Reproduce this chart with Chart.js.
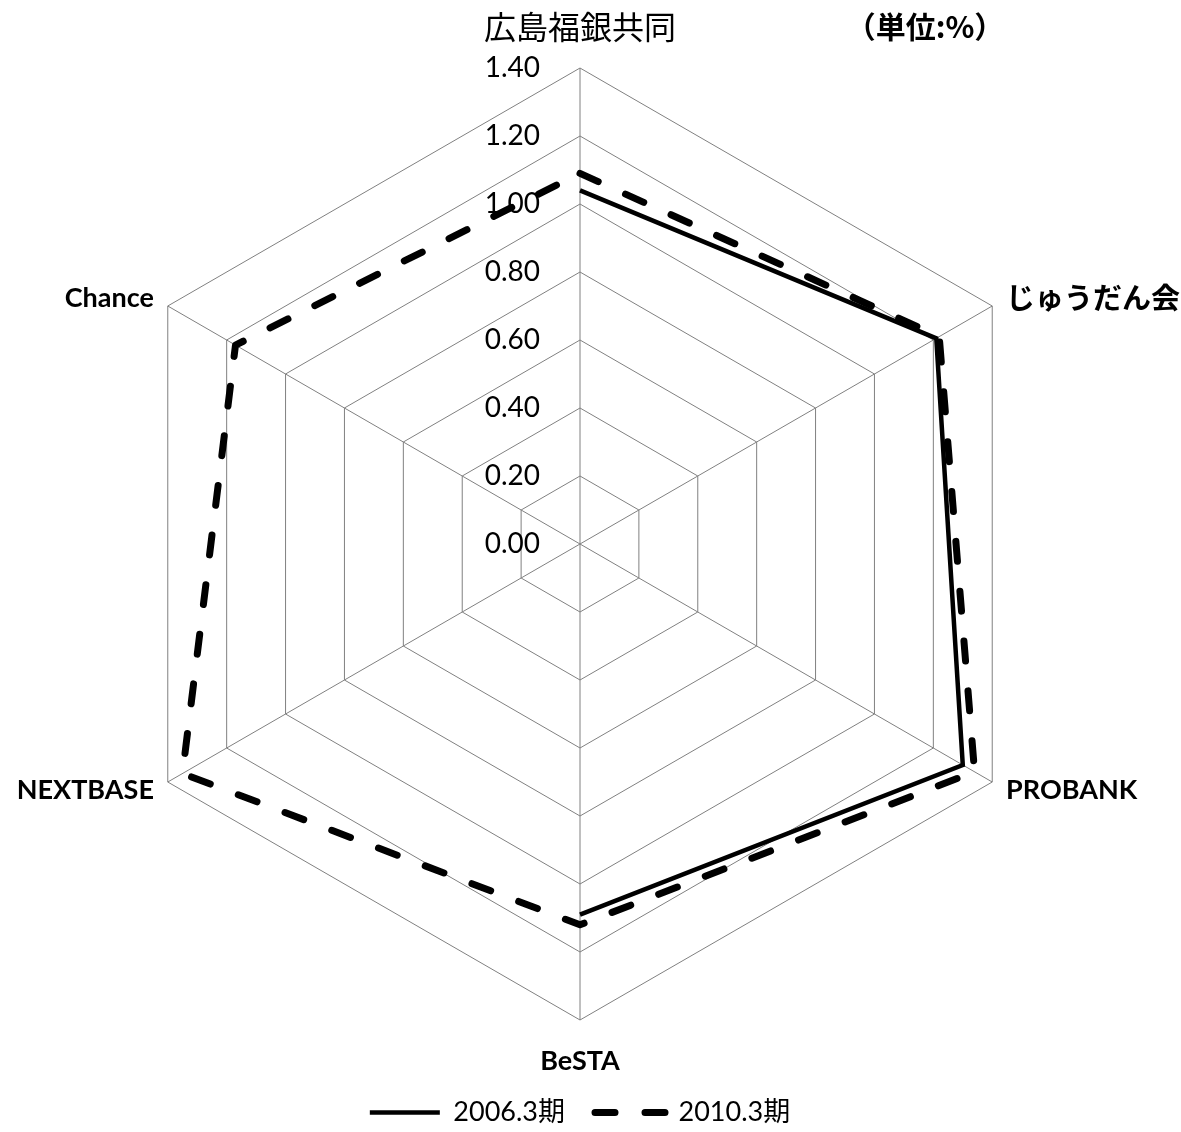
<!DOCTYPE html>
<html lang="ja">
<head>
<meta charset="utf-8">
<script src="https://cdn.jsdelivr.net/npm/chart.js@4.4.0/dist/chart.umd.min.js"></script>
<style>
    html, body { margin: 0; padding: 0; background: #fff; }
    #wrap { width: 1181px; height: 1132px; position: relative; }
</style>
</head>
<body>
<div id="wrap"><canvas id="radarChart"></canvas></div>
<script>
// Data
const categories = ['広島福銀共同', 'じゅうだん会', 'PROBANK', 'BeSTA', 'NEXTBASE', 'Chance'];
const seriesNames = ['2006.3期', '2010.3期'];
const values2006 = [1.04, 1.21, 1.30, 1.09, null, null];
const values2010 = [1.09, 1.22, 1.34, 1.12, 1.35, 1.17];
const tickValues = [0, 0.2, 0.4, 0.6, 0.8, 1.0, 1.2, 1.4];
const tickLabels = ['0.00', '0.20', '0.40', '0.60', '0.80', '1.00', '1.20', '1.40'];
const unitNote = '（単位:%）';

const latinFont = 'Lato, "Noto Sans CJK JP", sans-serif';
const gridColor = '#808080';

// Tick labels sit left of the vertical axis, point labels around the hexagon
const radarText = {
    id: 'radarText',
    beforeDatasetsDraw(chart) {
        const r = chart.scales.r;
        const ctx = chart.ctx;
        ctx.save();
        ctx.font = '28px ' + latinFont;
        ctx.fillStyle = '#000';
        ctx.textAlign = 'right';
        ctx.textBaseline = 'middle';
        tickValues.forEach((v, i) => {
            const y = r.yCenter - r.getDistanceFromCenterForValue(v);
            ctx.fillText(tickLabels[i], r.xCenter - 40, y);
        });
        ctx.restore();
    },
    afterDraw(chart) {
        const r = chart.scales.r;
        const ctx = chart.ctx;
        ctx.save();
        ctx.fillStyle = '#000';
        ctx.textBaseline = 'middle';
        categories.forEach((label, i) => {
            const probe = r.getPointPosition(i, r.drawingArea);
            const dx = probe.x - r.xCenter;
            const vertical = Math.abs(dx) < 1;
            const pos = r.getPointPosition(i, r.drawingArea + (vertical ? 41 : 16));
            if (i === 0) {
                ctx.font = '32px "Noto Sans CJK JP", sans-serif';
            } else if (/[^\x00-\x7f]/.test(label)) {
                ctx.font = 'bold 29px "Noto Sans CJK JP", sans-serif';
            } else {
                ctx.font = 'bold 27px ' + latinFont;
            }
            ctx.textAlign = vertical ? 'center' : (dx > 0 ? 'left' : 'right');
            ctx.fillText(label, pos.x, pos.y);
        });
        // unit note beside the top label
        const top = r.getPointPosition(0, r.drawingArea + 41);
        ctx.font = 'bold 30px "Noto Sans CJK JP", sans-serif';
        ctx.textAlign = 'center';
        ctx.fillText(unitNote, r.xCenter + 345, top.y);
        ctx.restore();
    }
};

const ctx = document.getElementById('radarChart').getContext('2d');
new Chart(ctx, {
    type: 'radar',
    data: {
        labels: categories,
        datasets: [{
            label: seriesNames[0],
            data: values2006,
            borderColor: '#000',
            backgroundColor: 'rgba(0,0,0,0)',
            borderWidth: 4.5,
            borderJoinStyle: 'miter',
            pointRadius: 0,
            fill: false,
            spanGaps: false
        }, {
            label: seriesNames[1],
            data: values2010,
            borderColor: '#000',
            backgroundColor: 'rgba(0,0,0,0)',
            borderWidth: 7,
            borderDash: [20, 30],
            borderCapStyle: 'round',
            borderJoinStyle: 'round',
            pointRadius: 0,
            fill: false
        }]
    },
    options: {
        responsive: true,
        maintainAspectRatio: false,
        animation: false,
        layout: { padding: { top: 19, bottom: -4, left: 104, right: 125 } },
        plugins: {
            legend: {
                position: 'bottom',
                labels: {
                    usePointStyle: true,
                    pointStyleWidth: 70,
                    color: '#000',
                    padding: 30,
                    font: { size: 27, family: latinFont },
                    generateLabels: (chart) => chart.data.datasets.map((ds, i) => ({
                        text: ds.label,
                        fillStyle: 'rgba(0,0,0,0)',
                        strokeStyle: '#000',
                        lineWidth: ds.borderWidth,
                        lineDash: ds.borderDash || [],
                        lineCap: ds.borderCapStyle || 'butt',
                        pointStyle: 'line',
                        fontColor: '#000',
                        hidden: false,
                        datasetIndex: i
                    }))
                }
            },
            tooltip: { enabled: false }
        },
        scales: {
            r: {
                min: 0,
                max: 1.4,
                afterBuildTicks: (scale) => {
                    scale.ticks = tickValues.map(v => ({ value: v }));
                },
                ticks: { display: false },
                grid: { color: gridColor, lineWidth: 1 },
                angleLines: { color: gridColor, lineWidth: 1 },
                pointLabels: { display: false }
            }
        }
    },
    plugins: [radarText]
});
</script>
</body>
</html>
